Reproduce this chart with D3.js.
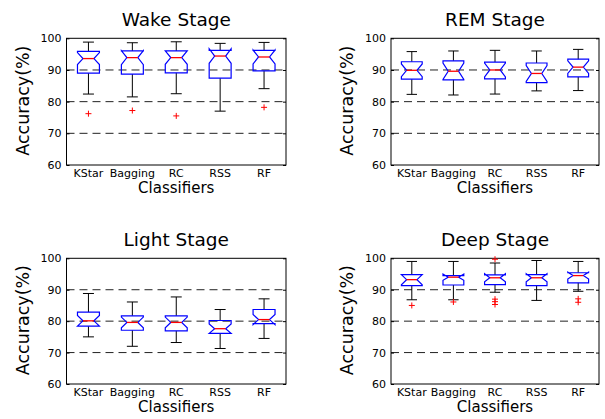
<!DOCTYPE html>
<html>
<head>
<meta charset="utf-8">
<script src="https://cdn.jsdelivr.net/npm/d3@7"></script>
<style>
  body { margin: 0; background: #fff; }
  svg { display: block; }
  text { font-family: "DejaVu Sans", sans-serif; fill: #000; }
</style>
</head>
<body>
<svg id="chart" width="605" height="419"></svg>
<script>
// Categories and axis ticks
const classifiers = ["KStar", "Bagging", "RC", "RSS", "RF"];
const stageTitles = ["Wake Stage", "REM Stage", "Light Stage", "Deep Stage"];
const yTicks = [60, 70, 80, 90, 100];
const gridValues = [70, 80, 90];

// Wake stage box statistics (accuracy, %)
const wakeLow   = [82.4, 81.5, 82.5, 77.0, 84.1];
const wakeQ1    = [89.0, 88.7, 89.1, 87.4, 89.7];
const wakeMed   = [93.6, 93.9, 93.9, 94.4, 94.1];
const wakeQ3    = [95.9, 96.0, 96.0, 96.2, 96.2];
const wakeHigh  = [98.8, 98.6, 98.9, 98.4, 98.7];
const wakeNotch = [1.9, 2.2, 2.1, 2.3, 2.2];
const wakeOutliers = [[76.2], [77.2], [75.5], [], [78.2]];

// REM stage
const remLow   = [82.3, 82.1, 82.4, 83.4, 83.5];
const remQ1    = [87.1, 86.9, 87.2, 86.0, 87.8];
const remMed   = [89.9, 89.6, 90.0, 88.9, 90.9];
const remQ3    = [92.6, 92.9, 92.5, 92.2, 93.4];
const remHigh  = [95.8, 96.0, 96.2, 96.0, 96.5];
const remNotch = [2.0, 2.6, 2.2, 2.5, 2.0];
const remOutliers = [[], [], [], [], []];

// Light stage
const lightLow   = [75.0, 72.0, 73.2, 71.3, 74.5];
const lightQ1    = [78.4, 77.1, 76.9, 76.1, 79.2];
const lightMed   = [80.1, 79.6, 79.6, 77.6, 80.5];
const lightQ3    = [82.9, 81.7, 81.7, 80.2, 83.7];
const lightHigh  = [88.8, 86.1, 87.7, 83.7, 87.1];
const lightNotch = [1.7, 1.7, 1.7, 1.5, 1.6];
const lightOutliers = [[], [], [], [], []];

// Deep stage
const deepLow   = [86.8, 86.8, 89.2, 86.6, 89.5];
const deepQ1    = [91.3, 91.5, 91.6, 91.3, 92.2];
const deepMed   = [93.2, 94.0, 93.8, 93.8, 94.5];
const deepQ3    = [94.8, 94.5, 94.7, 94.8, 95.4];
const deepHigh  = [99.0, 99.0, 98.5, 99.3, 99.0];
const deepNotch = [1.6, 1.0, 1.3, 1.3, 1.1];
const deepOutliers = [[85.0], [86.1], [99.7, 87.0, 86.2, 85.3], [], [87.1, 86.0]];

const panels = [
  { title: stageTitles[0], low: wakeLow, q1: wakeQ1, med: wakeMed, q3: wakeQ3, high: wakeHigh, notch: wakeNotch, out: wakeOutliers },
  { title: stageTitles[1], low: remLow, q1: remQ1, med: remMed, q3: remQ3, high: remHigh, notch: remNotch, out: remOutliers },
  { title: stageTitles[2], low: lightLow, q1: lightQ1, med: lightMed, q3: lightQ3, high: lightHigh, notch: lightNotch, out: lightOutliers },
  { title: stageTitles[3], low: deepLow, q1: deepQ1, med: deepMed, q3: deepQ3, high: deepHigh, notch: deepNotch, out: deepOutliers }
];

// Plot-area frames for the 2x2 grid
const frames = [
  { x0: 66.5, x1: 286, y0: 38.3, y1: 165 },
  { x0: 391,  x1: 599, y0: 38.3, y1: 165 },
  { x0: 66.5, x1: 286, y0: 258.3, y1: 384 },
  { x0: 391,  x1: 599, y0: 258.3, y1: 384 }
];

const svg = d3.select("#chart");
svg.append("rect").attr("width", 605).attr("height", 419).attr("fill", "#fff");

panels.forEach((p, i) => {
  const f = frames[i];
  const g = svg.append("g");

  const x = d3.scaleBand().domain(classifiers).range([f.x0, f.x1]).paddingInner(0).paddingOuter(0);
  const y = d3.scaleLinear().domain([60, 100]).range([f.y1, f.y0]);

  // dashed reference lines
  g.append("g").selectAll("line").data(gridValues).join("line")
    .attr("x1", f.x0).attr("x2", f.x1)
    .attr("y1", d => y(d)).attr("y2", d => y(d))
    .attr("stroke", "#222").attr("stroke-width", 1)
    .attr("stroke-dasharray", "8,5");

  // y axis, ticks pointing inward
  const yAxis = g.append("g").attr("transform", `translate(${f.x0},0)`)
    .call(d3.axisLeft(y).tickValues(yTicks).tickSize(-3).tickPadding(5));
  yAxis.select(".domain").remove();
  yAxis.attr("font-family", "DejaVu Sans").attr("font-size", 11);
  yAxis.selectAll("line").attr("stroke", "#000");
  yAxis.selectAll("text").attr("fill", "#000");

  const yAxisR = g.append("g").attr("transform", `translate(${f.x1},0)`)
    .call(d3.axisRight(y).tickValues(yTicks).tickSize(-3).tickFormat(""));
  yAxisR.select(".domain").remove();
  yAxisR.selectAll("line").attr("stroke", "#000");

  // x axis labels
  const xAxis = g.append("g").attr("transform", `translate(0,${f.y1})`)
    .call(d3.axisBottom(x).tickSize(0));
  xAxis.select(".domain").remove();
  xAxis.attr("font-family", "DejaVu Sans").attr("font-size", 11);
  xAxis.selectAll("text").attr("dy", null).attr("y", 11.5).attr("fill", "#000");

  // frame
  g.append("rect")
    .attr("x", f.x0).attr("y", f.y0)
    .attr("width", f.x1 - f.x0).attr("height", f.y1 - f.y0)
    .attr("fill", "none").attr("stroke", "#000").attr("stroke-width", 1);

  // boxes
  const bw = x.bandwidth();
  const w = bw * 0.25;      // half box width
  const nw = w / 2;         // half width at the notch waist
  const cw = w / 2;         // half whisker-cap width

  classifiers.forEach((c, k) => {
    const cx = x(c) + bw / 2;
    const q1 = p.q1[k], q3 = p.q3[k], med = p.med[k];
    const nlo = med - p.notch[k], nhi = med + p.notch[k];
    const bg = g.append("g");

    // whiskers
    bg.append("line").attr("x1", cx).attr("x2", cx)
      .attr("y1", y(q3)).attr("y2", y(p.high[k])).attr("stroke", "#000");
    bg.append("line").attr("x1", cx).attr("x2", cx)
      .attr("y1", y(q1)).attr("y2", y(p.low[k])).attr("stroke", "#000");
    bg.append("line").attr("x1", cx - cw).attr("x2", cx + cw)
      .attr("y1", y(p.high[k])).attr("y2", y(p.high[k])).attr("stroke", "#000");
    bg.append("line").attr("x1", cx - cw).attr("x2", cx + cw)
      .attr("y1", y(p.low[k])).attr("y2", y(p.low[k])).attr("stroke", "#000");

    // notched box outline
    const pts = [
      [cx - w, q1], [cx - w, nlo], [cx - nw, med], [cx - w, nhi], [cx - w, q3],
      [cx + w, q3], [cx + w, nhi], [cx + nw, med], [cx + w, nlo], [cx + w, q1]
    ];
    bg.append("path")
      .attr("d", d3.line().x(d => d[0]).y(d => y(d[1]))(pts) + "Z")
      .attr("fill", "none").attr("stroke", "#0000ff").attr("stroke-width", 1.2)
      .attr("stroke-linejoin", "miter");

    // median
    bg.append("line").attr("x1", cx - nw).attr("x2", cx + nw)
      .attr("y1", y(med)).attr("y2", y(med))
      .attr("stroke", "#ff0000").attr("stroke-width", 1.3);

    // outliers
    bg.selectAll("path.out").data(p.out[k]).join("path")
      .attr("class", "out")
      .attr("d", d => `M${cx - 3},${y(d)}H${cx + 3}M${cx},${y(d) - 3}V${y(d) + 3}`)
      .attr("stroke", "#ff0000").attr("stroke-width", 1);
  });

  // titles and axis labels
  const mx = (f.x0 + f.x1) / 2;
  g.append("text").attr("x", mx).attr("y", f.y0 - 12.8)
    .attr("text-anchor", "middle").attr("font-size", 18.5).text(p.title);
  g.append("text").attr("x", mx).attr("y", f.y1 + 27.8)
    .attr("text-anchor", "middle").attr("font-size", 15).text("Classifiers");
  g.append("text")
    .attr("transform", `translate(${f.x0 - 38},${(f.y0 + f.y1) / 2 - 1}) rotate(-90)`)
    .attr("text-anchor", "middle").attr("font-size", 17.5).text("Accuracy(%)");
});
</script>
</body>
</html>
